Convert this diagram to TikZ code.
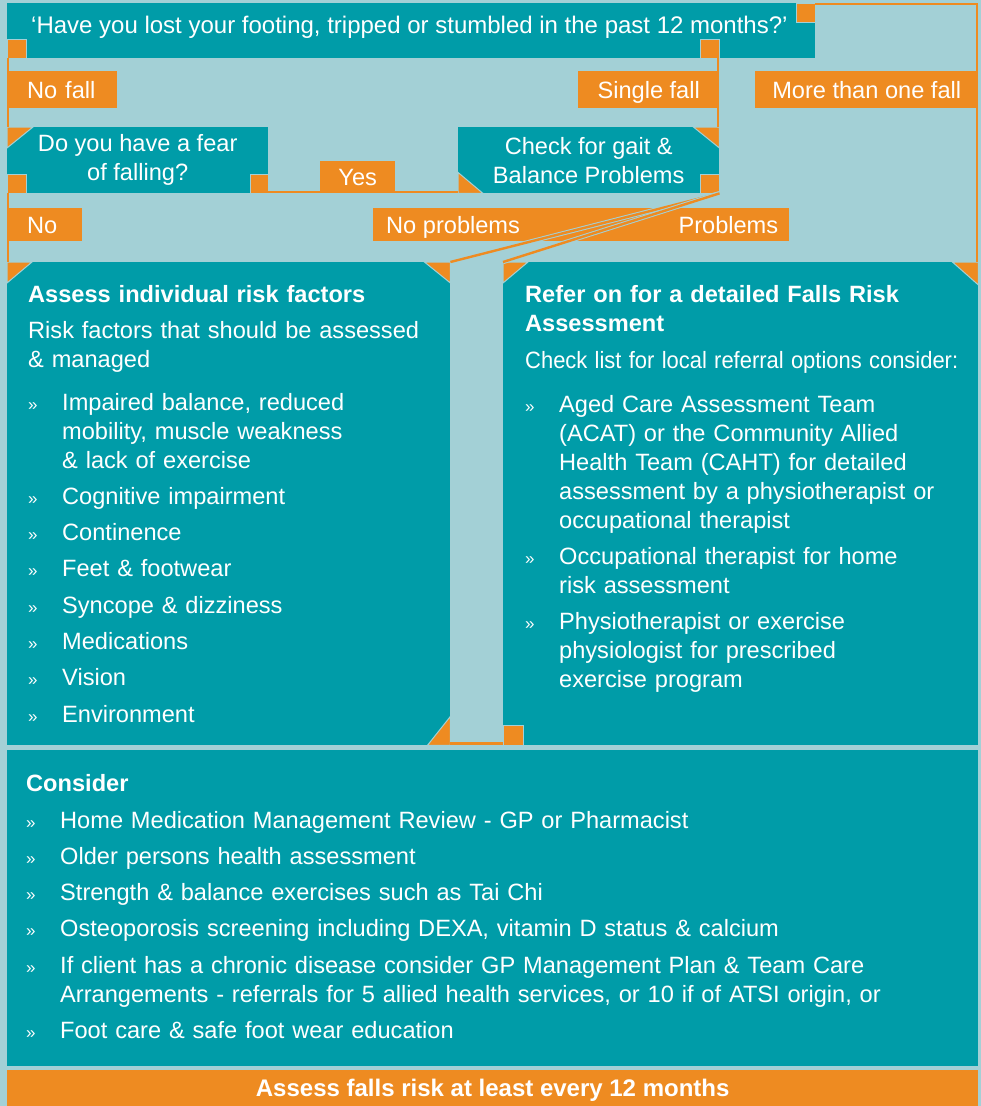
\documentclass[tikz,border=0pt]{standalone}
\usepackage{fontspec}
\setmainfont{Liberation Sans}
\usepackage{graphicx}
\usepackage{tikz}
\usetikzlibrary{calc,positioning}
\definecolor{tealbg}{HTML}{009CA8}
\definecolor{lightbg}{HTML}{A3D0D6}
\definecolor{orangebg}{HTML}{EE8B21}
\newcommand{\bul}{\llap{\makebox[34pt][l]{\fontsize{17}{29}\selectfont »}}}
\newcommand{\fitem}[1]{\par\vspace{7.3pt}\hangindent=34pt\hangafter=0\noindent\bul\begingroup\let\\\newline #1\endgroup\par}

\begin{document}
\begin{tikzpicture}[x=1pt, y=-1pt,
	every node/.style={text=white, inner sep=0, font=\fontsize{23.6}{29}\selectfont},
	head/.style={font=\fontsize{24}{29}\selectfont\bfseries},
	box/.style={fill=tealbg, anchor=north west},
	tag/.style={fill=orangebg, anchor=north west, text height=17, text depth=0},
	notch/.style={fill=orangebg, draw=lightbg, line width=1pt},
	link/.style={draw=orangebg, line width=2.4pt},
	cased/.style={preaction={draw=lightbg, line width=4.4pt}}]
	\useasboundingbox (0,0) rectangle (981,1106);
	\fill[lightbg] (0,0) rectangle (981,1106);

	\node[box, minimum width=808, minimum height=55] (q) at (7,3) {};
	\node[tag, minimum width=110, minimum height=37, text width=70, align=left] (nofall) at (7,71) {No fall};
	\node[tag, minimum width=141, minimum height=37] (single) at (578,71) {Single fall};
	\node[tag, minimum width=223, minimum height=37] (more) at (755,71) {More than one fall};
	\node[box, minimum width=261, minimum height=66, align=center] (fear) at (7,127) {Do you have a fear\\of falling?};
	\node[box, minimum width=261, minimum height=66, align=center] (gait) at (458,127) {Check for gait \&\\Balance Problems};
	\node[tag, minimum width=75, minimum height=33, text width=35, align=left] (no) at (7,208) {No};
	\node[tag, minimum width=416, minimum height=33] (bar) at (373,208) {};
	\node[box, minimum width=443, minimum height=483] (left) at (7,262) {};
	\node[box, minimum width=475, minimum height=483] (right) at (503,262) {};
	\node[box, minimum width=971, minimum height=316] (consider) at (7,750) {};
	\node[tag, head, minimum width=971, minimum height=36] (every) at (7,1070) {Assess falls risk at least every 12 months};

	\path[notch] (q.south west) rectangle +(19,-19);
	\path[notch] (q.north east) rectangle +(-19,19);
	\path[notch] (single.east |- q.south) rectangle +(-19,-19);
	\path[notch] (fear.south west) rectangle +(19,-19);
	\path[notch] (fear.south east) rectangle +(-18,-19);
	\path[notch] (gait.south east) rectangle +(-19,-19);
	\path[notch] (right.south west) rectangle +(20,-20);
	\path[notch] (fear.north west) -- +(26,0) -- +(0,21) -- cycle;
	\path[notch] (gait.north east) -- +(-26,0) -- +(0,21) -- cycle;
	\path[notch] (gait.south west) -- +(25,0) -- +(0,-21) -- cycle;
	\path[notch] (left.north west) -- +(25,0) -- +(0,21) -- cycle;
	\path[notch] (left.north east) -- +(-26,0) -- +(0,21) -- cycle;
	\path[notch] (right.north west) -- +(25,0) -- +(0,21) -- cycle;
	\path[notch] (right.north east) -- +(-26,0) -- +(0,23) -- cycle;
	\path[notch] (left.south east) -- +(-23,0) -- +(0,-29) -- cycle;
	\fill[orangebg] (left.south east) rectangle ([yshift=3]right.south west);

	\foreach \a/\b in {q/nofall, nofall/fear, fear/no, no/left}
		\draw[link] ([xshift=1.2]\a.south west) -- ([xshift=1.2]\b.north west);
	\draw[link] ([xshift=-1.2]single.north east) -- ([xshift=-1.2]single.north east |- q.south);
	\draw[link] ([xshift=-1.2]single.south east) -- ([xshift=-1.2]single.south east |- gait.north);
	\draw[link] ([yshift=-1.2]q.north east) -| ([xshift=-1.2]right.north east);
	\draw[link] ([yshift=1.2]fear.south east) -- ([yshift=1.2]gait.south west);
	\draw[link, cased] (gait.south east) -- (left.north east);
	\draw[link, cased] (gait.south east) -- (right.north west);
	\node[tag, minimum width=75, minimum height=32] (yes) at (320,161) {Yes};

	\node[anchor=base west, font=\fontsize{24}{29}\selectfont] (qtxt) at ([shift={(24,30)}]q.north west) {‘Have you lost your footing, tripped or stumbled in the past 12 months?’};
	\node[anchor=west, text height=17, text depth=0] (noprob) at ([xshift=13]bar.west) {No problems};
	\node[anchor=east, text height=17, text depth=0] (prob) at ([xshift=-11]bar.east) {Problems};

	\node[anchor=base west, text width=420, align=left] (risktxt) at ([shift={(21,40)}]left.north west) {
		{\bfseries Assess individual risk factors}\par\vspace{7pt}
		Risk factors that should be assessed\\\& managed\par\vspace{6.7pt}
		\fitem{Impaired balance, reduced\\mobility, muscle weakness\\\& lack of exercise}
		\fitem{Cognitive impairment}
		\fitem{Continence}
		\fitem{Feet \& footwear}
		\fitem{Syncope \& dizziness}
		\fitem{Medications}
		\fitem{Vision}
		\fitem{Environment}};
	\node[anchor=base west, text width=445, align=left] (refertxt) at ([shift={(22,40)}]right.north west) {
		{\bfseries Refer on for a detailed Falls Risk\\Assessment}\par\vspace{8pt}
		\scalebox{0.93}[1]{Check list for local referral options consider:}\par\vspace{7.7pt}
		\fitem{Aged Care Assessment Team\\(ACAT) or the Community Allied\\Health Team (CAHT) for detailed\\assessment by a physiotherapist or\\occupational therapist}
		\fitem{Occupational therapist for home\\risk assessment}
		\fitem{Physiotherapist or exercise\\physiologist for prescribed\\exercise program}};
	\node[anchor=base west, text width=930, align=left] (considertxt) at ([shift={(19,41)}]consider.north west) {
		{\bfseries Consider}\par\vspace{0.7pt}
		\fitem{Home Medication Management Review - GP or Pharmacist}
		\fitem{Older persons health assessment}
		\fitem{Strength \& balance exercises such as Tai Chi}
		\fitem{Osteoporosis screening including DEXA, vitamin D status \& calcium}
		\fitem{If client has a chronic disease consider GP Management Plan \& Team Care\\Arrangements - referrals for 5 allied health services, or 10 if of ATSI origin, or}
		\fitem{Foot care \& safe foot wear education}};
\end{tikzpicture}
\end{document}
